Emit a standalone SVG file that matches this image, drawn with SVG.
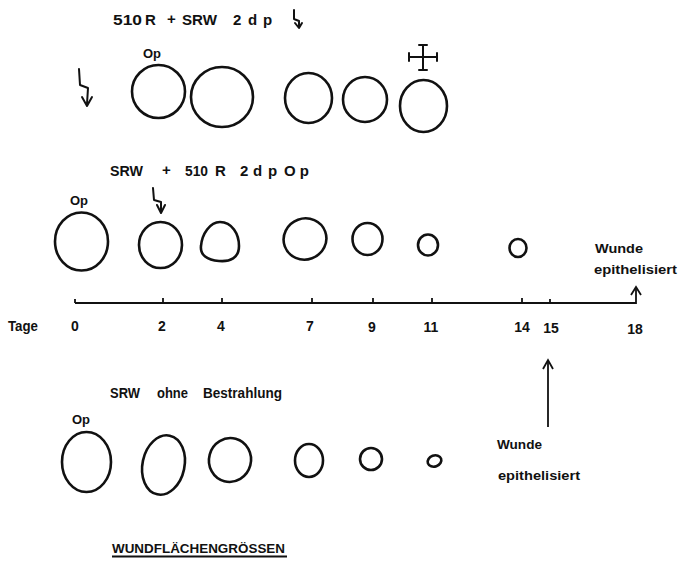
<svg xmlns="http://www.w3.org/2000/svg" width="681" height="561" viewBox="0 0 681 561">
<style>
.w{fill:none;stroke:#111;stroke-width:2.6}
.l{fill:none;stroke:#111;stroke-width:2;stroke-linecap:round;stroke-linejoin:round}
.ax{fill:none;stroke:#111;stroke-width:1.8}
text{font-family:"Liberation Sans","DejaVu Sans",Arial,sans-serif;fill:#111;font-weight:bold}
.t{font-size:15px}
.s{font-size:13px}
.n{font-size:14px}
</style>
<rect width="681" height="561" fill="#fff"/>

<g id="row1">
<text class="t" x="113" y="25" textLength="29" lengthAdjust="spacingAndGlyphs">510</text>
<text class="t" x="145" y="25">R</text>
<text class="t" x="167" y="24">+</text>
<text class="t" x="182" y="25" textLength="35" lengthAdjust="spacingAndGlyphs">SRW</text>
<text class="t" x="233" y="25">2</text>
<text class="t" x="248" y="25">d</text>
<text class="t" x="263" y="25">p</text>
<path class="l" d="M294,10 L294,19 L299,21 L299,27 M295,23 L299,28 L302,23"/>
<path class="l" d="M79,69 L80,85 L88,88 L87,104 M82,97 L87,106 L92,97" stroke-width="2.4"/>
<text class="s" x="143" y="58">Op</text>
<ellipse class="w" cx="158.5" cy="91.5" rx="26.5" ry="26.5"/>
<ellipse class="w" cx="222" cy="97" rx="31" ry="30"/>
<ellipse class="w" cx="308.5" cy="98" rx="23.5" ry="25"/>
<ellipse class="w" cx="365" cy="99.5" rx="22" ry="22.5"/>
<ellipse class="w" cx="423.5" cy="106" rx="23.5" ry="26"/>
<path class="l" d="M409,57 L437,57 M409,53 L409,61 M437,53 L437,61 M423,45 L423,70 M419,45 L427,45 M419,70 L427,70"/>
</g>

<g id="row2">
<text class="t" x="110" y="176" textLength="33" lengthAdjust="spacingAndGlyphs">SRW</text>
<text class="t" x="162" y="175">+</text>
<text class="t" x="185" y="176" textLength="23" lengthAdjust="spacingAndGlyphs">510</text>
<text class="t" x="215" y="176">R</text>
<text class="t" x="240" y="176">2</text>
<text class="t" x="253" y="176">d</text>
<text class="t" x="268" y="176">p</text>
<text class="t" x="284" y="176" letter-spacing="4">Op</text>
<text class="s" x="70" y="205">Op</text>
<path class="l" d="M153,188 L154,200 L161,202 L161,211 M157,205 L161,213 L165,205"/>
<ellipse class="w" cx="81.5" cy="241.5" rx="26.5" ry="29"/>
<ellipse class="w" cx="160.5" cy="245" rx="21.5" ry="23"/>
<path class="w" d="M220,222 C232,222 239,234 239,246 C239,258 230,262 219,261 C207,260 200,255 201,246 C202,234 210,222 220,222 Z"/>
<ellipse class="w" cx="305" cy="239" rx="21.5" ry="20.5" transform="rotate(-20 305 239)"/>
<ellipse class="w" cx="367.5" cy="239" rx="15" ry="16"/>
<ellipse class="w" cx="428" cy="245" rx="10" ry="10.5"/>
<ellipse class="w" cx="518" cy="248" rx="8.5" ry="9"/>
<text class="s" x="595" y="253" textLength="48" lengthAdjust="spacingAndGlyphs">Wunde</text>
<text class="s" x="594" y="274" textLength="83" lengthAdjust="spacingAndGlyphs">epithelisiert</text>
</g>

<g id="axis">
<path class="ax" d="M75,303 L636,303 L636,289"/>
<path class="ax" d="M631,295 L636,287 L641,295"/>
<path class="ax" d="M75,299 L75,303 M163,298 L163,303 M222,298 L222,303 M312,298 L312,303 M373,298 L373,303 M432,298 L432,303 M522,298 L522,303 M550,299 L550,303"/>
<text class="n" x="8" y="331" textLength="30" lengthAdjust="spacingAndGlyphs">Tage</text>
<text class="n" x="75" y="331" text-anchor="middle">0</text>
<text class="n" x="162" y="331" text-anchor="middle">2</text>
<text class="n" x="221" y="331" text-anchor="middle">4</text>
<text class="n" x="310" y="331" text-anchor="middle">7</text>
<text class="n" x="372" y="332" text-anchor="middle">9</text>
<text class="n" x="431" y="332" text-anchor="middle">11</text>
<text class="n" x="522" y="332" text-anchor="middle">14</text>
<text class="n" x="551" y="333" text-anchor="middle">15</text>
<text class="n" x="635" y="334" text-anchor="middle">18</text>
</g>

<g id="row3">
<text class="t" x="110" y="398" textLength="30" lengthAdjust="spacingAndGlyphs">SRW</text>
<text class="t" x="157" y="398" textLength="31" lengthAdjust="spacingAndGlyphs">ohne</text>
<text class="t" x="203" y="398" textLength="79" lengthAdjust="spacingAndGlyphs">Bestrahlung</text>
<text class="s" x="72" y="424">Op</text>
<ellipse class="w" cx="86.5" cy="462" rx="24.5" ry="30"/>
<ellipse class="w" cx="163.5" cy="465" rx="21" ry="30" transform="rotate(12 163.5 465)"/>
<ellipse class="w" cx="230" cy="460" rx="21" ry="22" transform="rotate(15 230 460)"/>
<ellipse class="w" cx="309" cy="460.5" rx="14" ry="16.5"/>
<ellipse class="w" cx="371" cy="459" rx="11" ry="11"/>
<ellipse class="w" cx="434.5" cy="461" rx="7" ry="5.5" transform="rotate(-20 434.5 461)"/>
<path class="ax" d="M548,427 L548,361"/>
<path class="ax" d="M543,369 L548,360 L553,369"/>
<text class="s" x="497" y="449" textLength="45" lengthAdjust="spacingAndGlyphs">Wunde</text>
<text class="s" x="498" y="480" textLength="82" lengthAdjust="spacingAndGlyphs">epithelisiert</text>
</g>

<g id="title">
<text class="s" x="112" y="553" textLength="173" lengthAdjust="spacingAndGlyphs">WUNDFLÄCHENGRÖSSEN</text>
<path class="ax" d="M112,556.5 L287,556.5" stroke-width="1.6"/>
</g>
</svg>
